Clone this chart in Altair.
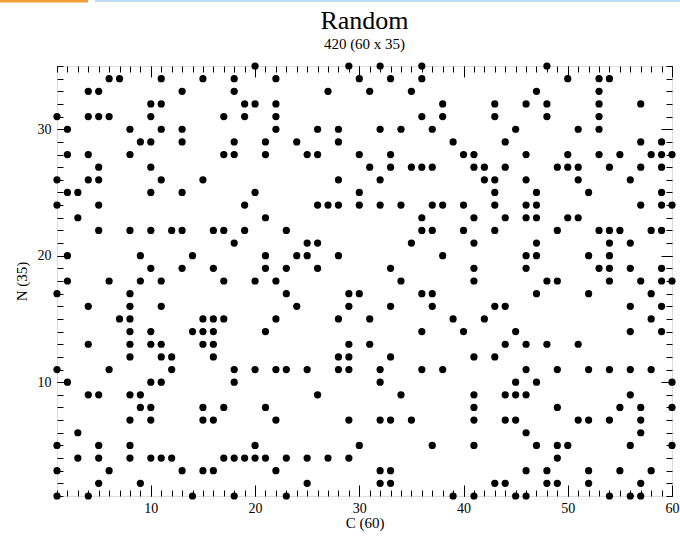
import altair as alt
import pandas as pd

FONT = "Liberation Serif"

# columns (C) of filled cells in each row (N)
n35 = [20, 29, 32, 36, 48]
n34 = [6, 7, 11, 15, 18, 22, 30, 33, 36, 50, 53, 54]
n33 = [4, 5, 13, 18, 27, 31, 35, 47, 53]
n32 = [10, 11, 19, 20, 22, 38, 43, 46, 48, 53, 57]
n31 = [1, 4, 5, 6, 10, 17, 19, 22, 36, 38, 43, 48, 53]
n30 = [2, 8, 11, 13, 22, 26, 28, 32, 34, 37, 45, 51, 53]
n29 = [9, 10, 13, 18, 21, 24, 28, 39, 44, 57, 59]
n28 = [2, 4, 8, 17, 18, 21, 25, 26, 30, 33, 40, 41, 46, 50, 53, 55, 58, 59, 60]
n27 = [5, 10, 31, 33, 35, 36, 37, 41, 42, 44, 49, 50, 51, 54, 57, 59]
n26 = [1, 4, 5, 11, 15, 28, 32, 42, 43, 46, 51, 56]
n25 = [2, 3, 10, 13, 20, 30, 43, 47, 52, 59]
n24 = [1, 5, 19, 26, 27, 28, 30, 32, 34, 37, 38, 40, 43, 46, 47, 57, 59, 60]
n23 = [3, 21, 36, 41, 44, 46, 47, 50, 51]
n22 = [5, 8, 10, 12, 13, 16, 17, 19, 23, 36, 37, 40, 43, 49, 53, 54, 55, 58, 59]
n21 = [18, 25, 26, 35, 41, 47, 54, 56]
n20 = [2, 9, 14, 21, 24, 25, 28, 38, 46, 47, 52, 54]
n19 = [10, 13, 16, 21, 23, 26, 33, 41, 46, 53, 54, 56, 59]
n18 = [2, 6, 9, 11, 17, 20, 22, 34, 41, 48, 49, 54, 57, 59, 60]
n17 = [1, 8, 23, 29, 30, 36, 37, 47, 52, 58]
n16 = [4, 8, 11, 24, 29, 33, 37, 43, 44, 56, 59]
n15 = [7, 8, 15, 16, 17, 22, 28, 31, 39, 42, 58]
n14 = [8, 10, 14, 15, 16, 21, 36, 40, 45, 56, 59]
n13 = [4, 8, 10, 11, 15, 16, 29, 31, 44, 46, 48, 51]
n12 = [8, 11, 12, 16, 28, 29, 33, 41, 43]
n11 = [1, 6, 12, 18, 20, 22, 23, 25, 28, 29, 32, 36, 38, 46, 49, 52, 54, 56, 58]
n10 = [2, 10, 11, 18, 32, 45, 47, 60]
n09 = [4, 5, 8, 9, 26, 34, 41, 44, 45, 46, 56]
n08 = [9, 10, 15, 17, 21, 41, 49, 55, 57, 60]
n07 = [8, 10, 15, 16, 22, 29, 32, 33, 35, 41, 44, 45, 51, 52, 54, 57]
n06 = [3, 46, 57]
n05 = [1, 5, 8, 20, 30, 37, 41, 47, 49, 50, 56, 60]
n04 = [3, 5, 8, 10, 11, 12, 17, 18, 19, 20, 21, 23, 25, 27, 29, 49]
n03 = [1, 6, 13, 15, 16, 22, 32, 33, 46, 48, 52, 55, 58]
n02 = [5, 9, 25, 32, 33, 43, 44, 48, 49, 52, 57]
n01 = [1, 4, 14, 18, 23, 39, 41, 45, 46, 54, 56, 57]

row_lists = [n01, n02, n03, n04, n05, n06, n07, n08, n09, n10, n11, n12,
             n13, n14, n15, n16, n17, n18, n19, n20, n21, n22, n23, n24,
             n25, n26, n27, n28, n29, n30, n31, n32, n33, n34, n35]

x_major = [10, 20, 30, 40, 50, 60]
y_major = [10, 20, 30]
x_minor = list(range(1, 61))
y_minor = list(range(1, 36))

records = []
for n, cols in enumerate(row_lists, start=1):
    for c in cols:
        records.append({"C": c, "N": n})
pts = pd.DataFrame(records)

xscale = alt.Scale(domain=[1, 60], nice=False, zero=False)
yscale = alt.Scale(domain=[1, 35], nice=False, zero=False)

MAJ = 11
MIN = 6


def tick_axis(orient, values, size):
    return alt.Axis(orient=orient, values=values, tickSize=size, offset=-size,
                    labels=False, domain=False, grid=False, title="",
                    tickColor="black", tickWidth=1)


def axis_layer(xo, xv, xs, yo, yv, ys):
    return alt.Chart(pts).mark_point(opacity=0).encode(
        x=alt.X("C:Q", scale=xscale, axis=tick_axis(xo, xv, xs)),
        y=alt.Y("N:Q", scale=yscale, axis=tick_axis(yo, yv, ys)),
    )


main = alt.Chart(pts).mark_circle(size=52, color="black", opacity=1).encode(
    x=alt.X("C:Q", scale=xscale,
            axis=alt.Axis(orient="bottom", values=x_major, ticks=False, domain=False,
                          grid=False, labelFont=FONT, labelFontSize=14,
                          labelColor="black", labelPadding=5, labelFlush=False,
                          title="C (60)", titleFont=FONT, titleFontSize=15,
                          titleFontWeight="normal", titleColor="black",
                          titlePadding=0)),
    y=alt.Y("N:Q", scale=yscale,
            axis=alt.Axis(orient="left", values=y_major, ticks=False, domain=False,
                          grid=False, labelFont=FONT, labelFontSize=14,
                          labelColor="black", labelPadding=6, labelFlush=False,
                          title="N (35)", titleFont=FONT, titleFontSize=15,
                          titleFontWeight="normal", titleColor="black",
                          titlePadding=8)),
)

deco = alt.Data(values=[{"k": 1}])
orange = alt.Chart(deco).mark_rule(color="#f39c34", strokeWidth=3).encode(
    x=alt.value(-57), x2=alt.value(31), y=alt.value(-65))
blue = alt.Chart(deco).mark_rule(color="#a9d2ee", strokeWidth=1.5).encode(
    x=alt.value(38), x2=alt.value(623), y=alt.value(-65))

chart = alt.layer(
    axis_layer("bottom", x_major, MAJ, "left", y_major, MAJ),
    axis_layer("bottom", x_minor, MIN, "left", y_minor, MIN),
    axis_layer("top", x_major, MAJ, "right", y_major, MAJ),
    axis_layer("top", x_minor, MIN, "right", y_minor, MIN),
    main,
    orange,
    blue,
).resolve_axis(x="independent", y="independent").properties(
    width=615,
    height=430,
    padding={"left": 57, "top": 66, "right": 8, "bottom": 41},
    autosize=alt.AutoSizeParams(type="none"),
    title=alt.TitleParams("Random", subtitle="420 (60 x 35)", font=FONT,
                          fontSize=26, fontWeight="normal", color="black",
                          subtitleFont=FONT, subtitleFontSize=15,
                          subtitleColor="black", subtitlePadding=3,
                          anchor="middle", offset=-52),
).configure_view(stroke="black", strokeWidth=1).configure(background="white")

chart.save("out.html", embed_options={"renderer": "svg", "actions": False})
